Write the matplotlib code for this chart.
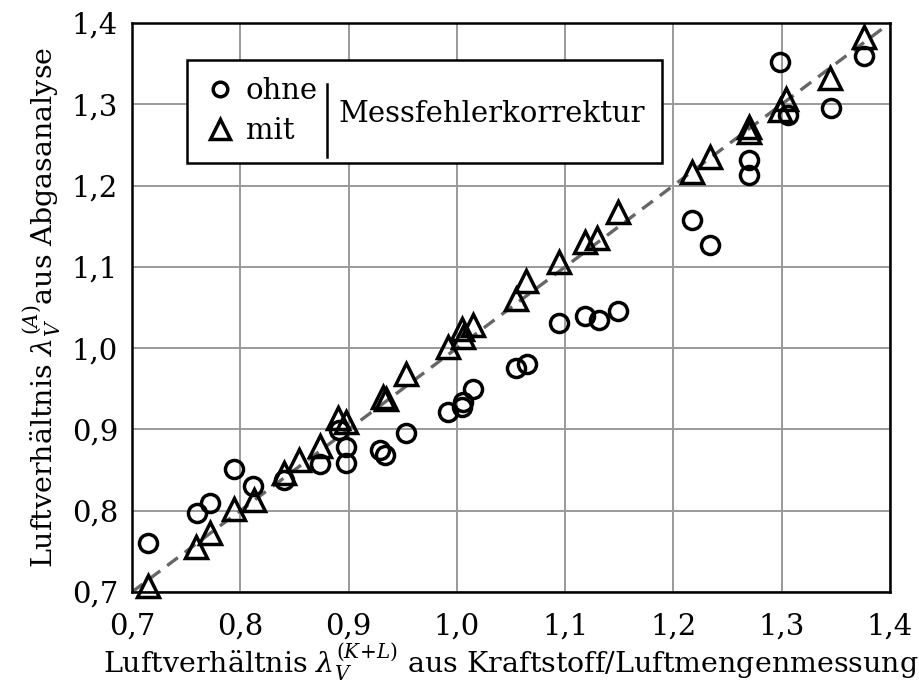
import matplotlib.pyplot as plt
from matplotlib.lines import Line2D
from matplotlib.patches import Rectangle
from matplotlib.ticker import FuncFormatter

plt.rcParams['font.family'] = 'DejaVu Serif'
plt.rcParams['mathtext.fontset'] = 'dejavuserif'

# Messpunkte ohne Messfehlerkorrektur
lam_kl_ohne = [0.715, 0.760, 0.772, 0.794, 0.812, 0.840, 0.874, 0.891, 0.898, 0.898,
               0.929, 0.934, 0.953, 0.992, 1.005, 1.006, 1.015, 1.055, 1.065, 1.094,
               1.118, 1.131, 1.149, 1.217, 1.234, 1.270, 1.270, 1.298, 1.306, 1.346,
               1.376]
lam_a_ohne = [0.760, 0.797, 0.809, 0.851, 0.830, 0.838, 0.858, 0.899, 0.879, 0.859,
              0.875, 0.868, 0.896, 0.921, 0.928, 0.934, 0.950, 0.975, 0.980, 1.031,
              1.039, 1.035, 1.046, 1.158, 1.127, 1.231, 1.213, 1.352, 1.287, 1.295,
              1.359]

# Messpunkte mit Messfehlerkorrektur
lam_kl_mit = [0.715, 0.759, 0.772, 0.794, 0.813, 0.840, 0.854, 0.874, 0.890, 0.898,
              0.932, 0.935, 0.953, 0.992, 1.005, 1.006, 1.015, 1.055, 1.064, 1.094,
              1.118, 1.129, 1.149, 1.217, 1.234, 1.270, 1.270, 1.298, 1.304, 1.345,
              1.376]
lam_a_mit = [0.707, 0.755, 0.772, 0.802, 0.813, 0.847, 0.863, 0.880, 0.914, 0.909,
             0.940, 0.937, 0.968, 1.002, 1.024, 1.014, 1.028, 1.060, 1.082, 1.106,
             1.131, 1.135, 1.168, 1.217, 1.235, 1.272, 1.266, 1.293, 1.307, 1.332,
             1.383]

ticks = [0.7, 0.8, 0.9, 1.0, 1.1, 1.2, 1.3, 1.4]

fig = plt.figure(figsize=(9.19, 6.88), dpi=100)
ax = fig.add_axes([0.1436, 0.1395, 0.8248, 0.8271])

ax.plot([0.7, 1.4], [0.7, 1.4], color='#666666', lw=2.4, dashes=(4, 2.6), zorder=2)
ax.plot(lam_kl_ohne, lam_a_ohne, 'o', ms=13, mfc='none', mec='black', mew=2.5,
        clip_on=False, zorder=3)
ax.plot(lam_kl_mit, lam_a_mit, '^', ms=16.5, mfc='none', mec='black', mew=2.5,
        clip_on=False, zorder=4)

ax.set_xlim(0.7, 1.4)
ax.set_ylim(0.7, 1.4)
ax.set_xticks(ticks)
ax.set_yticks(ticks)
fmt = FuncFormatter(lambda v, p: f'{v:.1f}'.replace('.', ','))
ax.xaxis.set_major_formatter(fmt)
ax.yaxis.set_major_formatter(fmt)
ax.tick_params(length=0, labelsize=21)
ax.tick_params(axis='x', pad=15)
ax.tick_params(axis='y', pad=10)
ax.grid(True, color='#9a9a9a', lw=1.4)
ax.set_axisbelow(True)
for s in ax.spines.values():
    s.set_linewidth(1.8)

ax.set_xlabel(r'Luftverhältnis $\lambda_V^{(K\!+\!L)}$ aus Kraftstoff/Luftmengenmessung',
              fontsize=20.5, labelpad=0)
ax.set_ylabel(r'Luftverhältnis $\lambda_V^{(A)}$aus Abgasanalyse', fontsize=20.5, labelpad=6)

# Legende mit gemeinsamem Zusatz
ax.add_patch(Rectangle((0.0726, 0.754), 0.6264, 0.181, transform=ax.transAxes,
                       fc='white', ec='black', lw=1.8, zorder=5))
handles = [Line2D([], [], ls='none', marker='o', ms=10.5, mfc='none', mec='black', mew=2.5),
           Line2D([], [], ls='none', marker='^', ms=14, mfc='none', mec='black', mew=2.5)]
leg = ax.legend(handles, ['ohne', 'mit'], loc='upper left', bbox_to_anchor=(0.085, 0.925),
                frameon=False, fontsize=21, handlelength=0.8, handletextpad=0.5,
                labelspacing=0.4, borderaxespad=0)
leg.set_zorder(6)
ax.plot([0.257, 0.257], [0.765, 0.893], color='black', lw=1.8, transform=ax.transAxes,
        zorder=6)
ax.text(0.272, 0.84, 'Messfehlerkorrektur', transform=ax.transAxes, fontsize=21,
        va='center', ha='left', zorder=6)

fig.savefig('out.png', dpi=100)
